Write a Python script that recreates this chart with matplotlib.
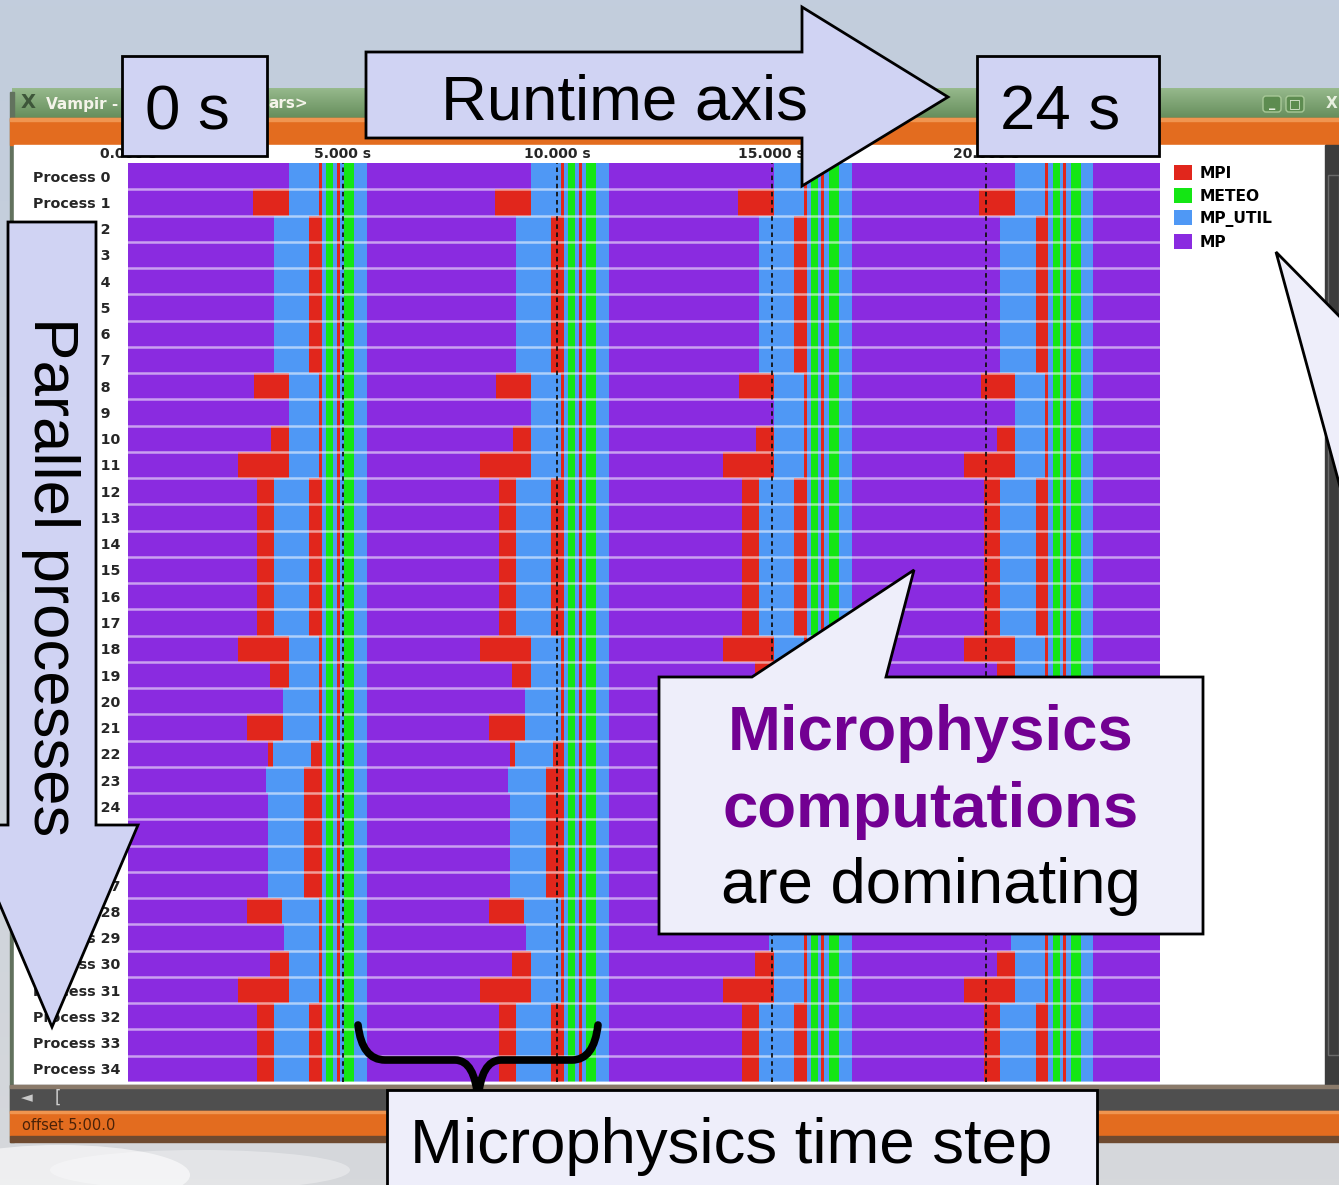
import matplotlib
matplotlib.use("Agg")
import matplotlib.pyplot as plt
import numpy as np
from matplotlib.patches import Rectangle, Polygon, PathPatch, FancyBboxPatch, Patch
from matplotlib.path import Path

W, H = 1339, 1185

# ---------------- data ----------------
categories = ["MPI", "METEO", "MP_UTIL", "MP"]
cat_colors = {"MPI": "#e1261c", "METEO": "#14e614", "MP_UTIL": "#4f98f5", "MP": "#8a2be0"}
process_labels = [f"Process {i}" for i in range(35)]
t_max = 24.05
tick_values = [0, 5, 10, 15, 20]
tick_labels = ["0.000 s", "5.000 s", "10.000 s", "15.000 s", "20.000 s"]
marker_times = [5.0, 10.0, 15.0, 20.0]
step_offsets = [0.0, 5.64, 11.30, 16.93]

# per-process times (s) inside the first step
mp_end = [3.75, 2.91, 3.40, 3.40, 3.40, 3.40, 3.40, 3.40, 2.94, 3.75,
          3.33, 2.56, 3.01, 3.01, 3.01, 3.01, 3.01, 3.01, 2.56, 3.31,
          3.61, 2.77, 3.26, 3.22, 3.26, 3.26, 3.26, 3.26, 2.77, 3.64,
          3.31, 2.56, 3.01, 3.01, 3.01]
util_start = [3.75, 3.75, 3.40, 3.40, 3.40, 3.40, 3.40, 3.40, 3.75, 3.75,
              3.75, 3.75, 3.40, 3.40, 3.40, 3.40, 3.40, 3.40, 3.75, 3.75,
              3.61, 3.61, 3.38, 3.22, 3.26, 3.26, 3.26, 3.26, 3.59, 3.64,
              3.75, 3.75, 3.40, 3.40, 3.40]
util_end = [4.45, 4.45, 4.22, 4.22, 4.22, 4.22, 4.22, 4.22, 4.45, 4.45,
            4.45, 4.45, 4.22, 4.22, 4.22, 4.22, 4.22, 4.22, 4.45, 4.45,
            4.45, 4.45, 4.27, 4.10, 4.10, 4.10, 4.10, 4.10, 4.45, 4.45,
            4.45, 4.45, 4.22, 4.22, 4.22]
late_mpi_end = 4.52
band_starts = [4.52, 4.615, 4.78, 4.86, 5.035, 5.27]
band_ends = [4.615, 4.78, 5.035, 4.93, 5.27, 5.57]
band_cats = ["MP_UTIL", "METEO", "MP_UTIL", "MPI", "METEO", "MP_UTIL"]

# ---------------- figure ----------------
fig = plt.figure(figsize=(W / 100, H / 100), dpi=100)
bg = fig.add_axes([0, 0, 1, 1], zorder=0)
bg.set_xlim(0, W)
bg.set_ylim(H, 0)
bg.axis("off")

# background gradient
ys = np.linspace(0, 1, 200)[:, None]
top = np.array([194, 205, 221]) / 255
mid = np.array([200, 208, 219]) / 255
bot = np.array([214, 216, 219]) / 255
grad = np.where(ys[..., None] < 0.5,
                top + (mid - top) * (ys[..., None] / 0.5),
                mid + (bot - mid) * ((ys[..., None] - 0.5) / 0.5))
grad = np.repeat(grad, 2, axis=1)
bg.imshow(grad, extent=(0, W, H, 0), aspect="auto", zorder=0)
for cx, cy, w_, h_, a in [(60, 1175, 260, 60, 0.6), (200, 1170, 300, 40, 0.35)]:
    bg.add_patch(matplotlib.patches.Ellipse((cx, cy), w_, h_, color="white", alpha=a, lw=0, zorder=0.5))

# window frame
tb = np.linspace(0, 1, 30)[:, None, None]
tcol = np.array([150, 185, 140]) / 255 * (1 - tb) + np.array([100, 140, 90]) / 255 * tb
tcol = np.repeat(tcol, 2, axis=1)
bg.imshow(tcol, extent=(12, W, 119, 88), aspect="auto", zorder=1)
bg.add_patch(Rectangle((10, 92), 4, 1050, color="#62725e", zorder=1.2))
bg.add_patch(Rectangle((10, 118), W, 27, color="#e36c1f", zorder=1.2))
bg.add_patch(Rectangle((10, 118), W, 3, color="#f09550", zorder=1.3))
bg.add_patch(Rectangle((14, 145), 1311, 940, color="white", zorder=1.2))
bg.add_patch(Rectangle((1325, 145), 14, 940, color="#3c3c3c", zorder=1.3))
bg.add_patch(Rectangle((1328, 175), 11, 880, fill=False, ec="#6a6a6a", lw=1, zorder=1.4))
bg.add_patch(Rectangle((10, 1085), W, 26, color="#4f4f4f", zorder=1.2))
bg.add_patch(Rectangle((10, 1085), W, 3, color="#8a7a6a", zorder=1.3))
bg.add_patch(Rectangle((10, 1111), W, 25, color="#e36c1f", zorder=1.2))
bg.add_patch(Rectangle((10, 1111), W, 2, color="#f09550", zorder=1.3))
bg.add_patch(Rectangle((10, 1136), W, 6, color="#6e4a30", zorder=1.2))
bg.text(28, 103, "X", color="#3e563a", fontsize=14, fontweight="bold", ha="center", va="center", zorder=2)
bg.text(46, 104, "Vampir - Timeline <B", color="#f4f4ea", fontsize=11, fontweight="bold", va="center", zorder=2)
bg.text(268, 104, "ars>", color="#f4f4ea", fontsize=11, fontweight="bold", va="center", zorder=2)
for bx, glyph in [(1263, "_"), (1286, "\u25a1")]:
    bg.add_patch(FancyBboxPatch((bx, 96), 18, 16, boxstyle="round,pad=0,rounding_size=3",
                                fc="#5d8c50", ec="#a8c898", lw=1, zorder=2))
    bg.text(bx + 9, 104, glyph, color="#e8f0e0", fontsize=9, fontweight="bold", ha="center", va="center", zorder=2.1)
bg.text(1332, 104, "X", color="#e8f0e0", fontsize=11, fontweight="bold", ha="center", va="center", zorder=2)
bg.text(27, 1098, "\u25c4", color="#c8c8c8", fontsize=11, ha="center", va="center", zorder=2)
bg.text(58, 1098, "[", color="#d0d0d0", fontsize=12, ha="center", va="center", zorder=2)
bg.text(22, 1125, "offset 5:00.0", color="#4a2208", fontsize=10.5, va="center", zorder=2)

# ---------------- timeline ----------------
ax = fig.add_axes([128 / W, 1 - 1082 / H, (1160 - 128) / W, (1082 - 163) / H], zorder=1)
ax.set_xlim(0, t_max)
ax.set_ylim(len(process_labels), 0)
for i in range(len(process_labels)):
    ax.broken_barh([(0, t_max)], (i, 1), facecolors=cat_colors["MP"], lw=0)
    for o in step_offsets:
        segs = []
        if util_start[i] > mp_end[i]:
            segs.append((mp_end[i], util_start[i], "MPI"))
        segs.append((util_start[i], util_end[i], "MP_UTIL"))
        segs.append((util_end[i], late_mpi_end, "MPI"))
        for s, e, c in zip(band_starts, band_ends, band_cats):
            segs.append((s, e, c))
        for s, e, c in segs:
            ax.broken_barh([(s + o, e - s)], (i, 1), facecolors=cat_colors[c], lw=0)
for i in range(1, len(process_labels) + 1):
    ax.axhline(i, color="white", alpha=0.55, lw=1.8)
for t in marker_times:
    ax.axvline(t, color="#111111", lw=1.3, ls=(0, (2.5, 2)))
for sp in ax.spines.values():
    sp.set_visible(False)
ax.xaxis.tick_top()
ax.set_xticks(tick_values, tick_labels, fontsize=10, fontweight="bold", color="#262626")
ax.tick_params(axis="x", length=0, pad=1.5)
ax.set_yticks(np.arange(len(process_labels)) + 0.5, process_labels, fontsize=10.3,
              fontweight="bold", color="#262626")
ax.tick_params(axis="y", length=0, pad=68.4)
for lbl in ax.get_yticklabels():
    lbl.set_ha("left")

handles = [Patch(facecolor=cat_colors[c], edgecolor="none") for c in categories]
fig.legend(handles, categories, loc="upper left", bbox_to_anchor=(1174 / W, 1 - 165 / H),
           frameon=False, prop={"weight": "bold", "size": 11.2},
           handlelength=1.15, handleheight=1.15, handletextpad=0.5, labelspacing=0.42,
           borderpad=0, borderaxespad=0)

# ---------------- annotations ----------------
ov = fig.add_axes([0, 0, 1, 1], zorder=10)
ov.set_xlim(0, W)
ov.set_ylim(H, 0)
ov.axis("off")
ov.patch.set_alpha(0)
FONT = "Liberation Sans"
FS = 45.7
BOX = "#d0d3f3"
LIGHT = "#eeeefa"

ov.add_patch(Rectangle((122, 56), 145, 100, fc=BOX, ec="black", lw=2))
ov.text(187, 130, "0 s", family=FONT, fontsize=FS, ha="center", va="baseline")
ov.add_patch(Polygon([(366, 52), (802, 52), (802, 7), (948, 97), (802, 186), (802, 138), (366, 138)],
                     closed=True, fc=BOX, ec="black", lw=2))
ov.text(624, 119, "Runtime axis", family=FONT, fontsize=FS, ha="center", va="baseline")
ov.add_patch(Rectangle((977, 56), 182, 100, fc=BOX, ec="black", lw=2))
ov.text(1060, 130, "24 s", family=FONT, fontsize=FS, ha="center", va="baseline")

ov.add_patch(Polygon([(8, 222), (96, 222), (96, 825), (138, 825), (52, 1027), (-34, 825), (8, 825)],
                     closed=True, fc=BOX, ec="black", lw=2))
ov.text(50, 577, "Parallel processes", family=FONT, fontsize=FS, ha="center", va="center", rotation=-90)

ov.add_patch(Polygon([(659, 677), (752, 677), (914, 570), (886, 677), (1203, 677), (1203, 934), (659, 934)],
                     closed=True, fc=LIGHT, ec="black", lw=2))
ov.text(931, 750, "Microphysics", family=FONT, fontsize=FS, fontweight="bold", color="#720092",
        ha="center", va="baseline")
ov.text(931, 827, "computations", family=FONT, fontsize=FS, fontweight="bold", color="#720092",
        ha="center", va="baseline")
ov.text(931, 903, "are dominating", family=FONT, fontsize=FS, ha="center", va="baseline")

ov.add_patch(Polygon([(1276, 252), (1345, 322), (1345, 505)], closed=True, fc=LIGHT, ec="black", lw=2))

verts = [(358, 1025), (362, 1060), (385, 1060), (455, 1060), (475, 1060), (478, 1100),
         (481, 1060), (501, 1060), (572, 1060), (594, 1060), (598, 1025)]
codes = [Path.MOVETO, Path.CURVE3, Path.CURVE3, Path.LINETO, Path.CURVE3, Path.CURVE3,
         Path.CURVE3, Path.CURVE3, Path.LINETO, Path.CURVE3, Path.CURVE3]
ov.add_patch(PathPatch(Path(verts, codes), fill=False, ec="black", lw=5.5, capstyle="round", joinstyle="round"))

ov.add_patch(Rectangle((387, 1090), 710, 120, fc=LIGHT, ec="black", lw=2))
ov.text(731, 1163, "Microphysics time step", family=FONT, fontsize=FS, ha="center", va="baseline")

fig.savefig("out.png", dpi=100)
